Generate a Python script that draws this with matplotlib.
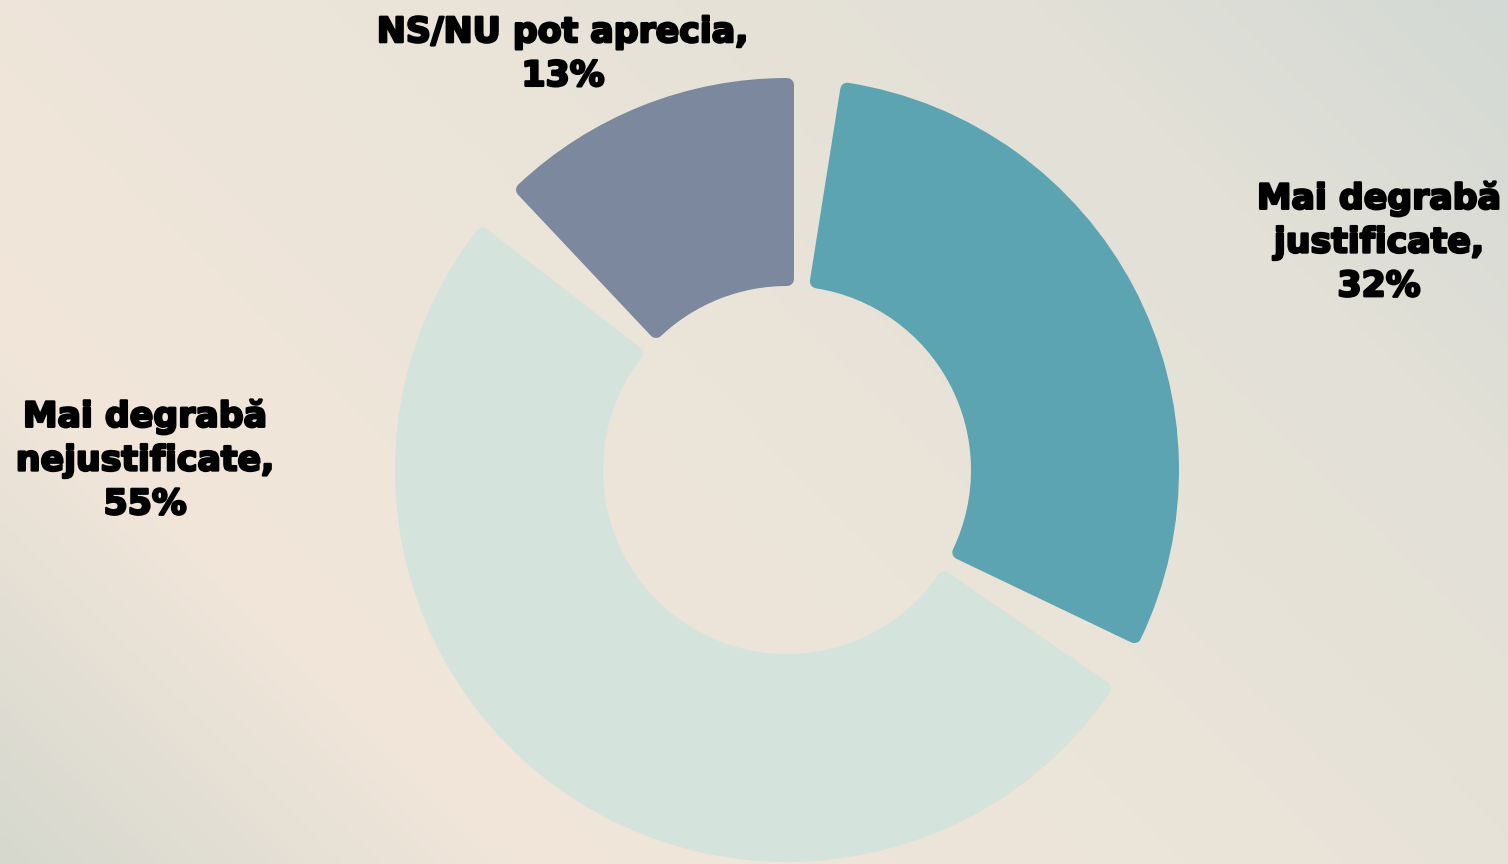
import matplotlib
matplotlib.use("Agg")
import matplotlib.pyplot as plt
import numpy as np
from matplotlib.patches import Wedge
from matplotlib.colors import LinearSegmentedColormap
import matplotlib.patheffects as pe

# date
categorii = ['Mai degrabă\njustificate', 'Mai degrabă\nnejustificate', 'NS/NU pot aprecia']
procente = [32, 55, 13]
culori = ['#5ca4b1', '#d5e3dd', '#7b889d']

W, H = 1508, 864
fig = plt.figure(figsize=(W / 100, H / 100), dpi=100)
ax = fig.add_axes([0, 0, 1, 1])
ax.set_xlim(0, W)
ax.set_ylim(0, H)
ax.set_aspect('equal')
ax.axis('off')

# fundal in degrade
xx, yy = np.meshgrid(np.linspace(0, 1, 400), np.linspace(0, 1, 230))
u = (xx * W + yy * H) / (W + H)
fundal = LinearSegmentedColormap.from_list('fundal', [
    (0.0, '#d6d8ce'), (0.22, '#f2e6da'), (0.5, '#ebe4d9'),
    (0.8, '#e2e0d7'), (1.0, '#d3d9d4')])
ax.imshow(u, cmap=fundal, extent=[0, W, 0, H], origin='lower', aspect='auto', zorder=0)

# gogoasa
cx, cy = 787, 394
r_ext, r_int = 392, 184
gap = 9
colt = 7  # raza colturilor rotunjite
A = 360 - 3 * gap
start = 90 - gap
umbra = [pe.SimplePatchShadow(offset=(3, -4), shadow_rgbFace='#5a5040', alpha=0.12),
         pe.SimplePatchShadow(offset=(2, -2), shadow_rgbFace='#5a5040', alpha=0.15),
         pe.Normal()]
for p, c in zip(procente, culori):
    span = A * p / 100.0
    w = Wedge((cx, cy), r_ext - colt, start - span, start, width=r_ext - r_int - 2 * colt,
              facecolor=c, edgecolor=c, linewidth=colt * 2 * 0.72, joinstyle='round', zorder=2)
    w.set_path_effects(umbra)
    ax.add_patch(w)
    start = start - span - gap

# etichete
fs = 25
gros = [pe.withStroke(linewidth=1.7, foreground='black')]
eticheta = dict(ha='center', va='center', fontsize=fs, fontweight='bold', family='DejaVu Sans',
                linespacing=1.36, color='black', zorder=3, path_effects=gros)
ax.text(1379, H - 242, 'Mai degrabă\njustificate,\n32%', **eticheta)
ax.text(145, H - 460, 'Mai degrabă\nnejustificate,\n55%', **eticheta)
ax.text(563, H - 54, 'NS/NU pot aprecia,\n13%', **eticheta)

plt.savefig('out.png', dpi=100)
